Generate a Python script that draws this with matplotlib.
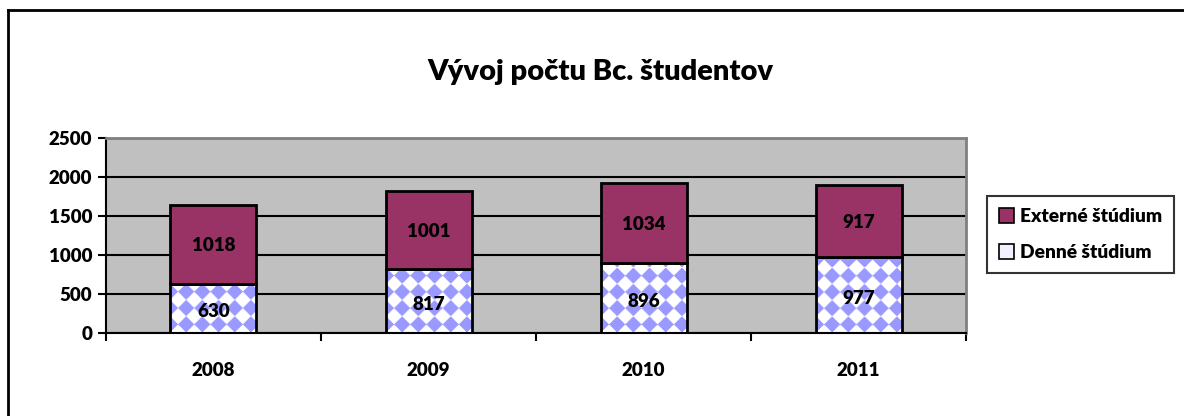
import matplotlib
matplotlib.use('Agg')
import matplotlib.pyplot as plt
from matplotlib.patches import Patch
from matplotlib.lines import Line2D
import numpy as np

plt.rcParams['font.family'] = ['Lato', 'DejaVu Sans']
plt.rcParams['font.weight'] = 'heavy'

years = ['2008', '2009', '2010', '2011']
denne = [630, 817, 896, 977]
externe = [1018, 1001, 1034, 917]

maroon = '#993366'
lilac = '#9999ff'

fig = plt.figure(figsize=(11.84, 4.16), dpi=100)
ax = fig.add_axes([0.0895, 0.1995, 0.7265, 0.4685])
ax.set_facecolor('#c0c0c0')

x = np.arange(len(years))
w = 0.4
ax.set_xlim(-0.5, len(years) - 0.5)
ax.set_ylim(0, 2500)

# diamond texture for Denné štúdium
def diamond(wpx, hpx, s=16):
    xx, yy = np.meshgrid(np.arange(wpx), np.arange(hpx))
    u = np.floor((xx + yy) / s)
    v = np.floor((xx - yy + 1000 * s) / s)
    m = ((u + v) % 2).astype(float)
    img = np.ones((hpx, wpx, 3))
    c = np.array(matplotlib.colors.to_rgb(lilac))
    img[m == 1] = c
    return img

px_per_y = 195 / 2500
bars_d = ax.bar(x, denne, w, color='none', edgecolor='black', linewidth=2, zorder=3)
for b, val in zip(bars_d, denne):
    img = diamond(86, max(int(val * px_per_y), 2))
    im = ax.imshow(img, extent=[b.get_x(), b.get_x() + w, 0, val], aspect='auto',
                   origin='lower', zorder=2, interpolation='bilinear')
    im.set_clip_path(b)
ax.set_xlim(-0.5, len(years) - 0.5)
ax.set_ylim(0, 2500)
ax.bar(x, externe, w, bottom=denne, color=maroon, edgecolor='black', linewidth=2, zorder=3)

for i in range(len(years)):
    ax.text(x[i], denne[i] / 2 - 40, str(denne[i]), ha='center', va='center',
            fontsize=13.5, fontweight='heavy', zorder=5)
    ax.text(x[i], denne[i] + externe[i] / 2 - 20, str(externe[i]), ha='center', va='center',
            fontsize=13.5, fontweight='heavy', zorder=5)

ax.set_yticks([0, 500, 1000, 1500, 2000, 2500])
ax.yaxis.grid(True, color='black', linewidth=1.5, zorder=1)
ax.set_axisbelow(True)
ax.set_xticks(np.arange(-0.5, len(years) + 0.5, 1))
ax.set_xticklabels([])
ax.set_xticks(x, minor=True)
ax.set_xticklabels(years, minor=True)
ax.tick_params(axis='x', which='major', length=6, width=1.5, direction='out')
ax.tick_params(axis='x', which='minor', length=0, pad=21, labelsize=13.5)
ax.tick_params(axis='y', length=6, width=1.5, direction='out', labelsize=13.5, pad=4)
for lab in ax.get_xticklabels(minor=True) + ax.get_yticklabels():
    lab.set_fontweight('heavy')

for s in ['top', 'right']:
    ax.spines[s].set_color('#808080')
    ax.spines[s].set_linewidth(2)
ax.spines['left'].set_linewidth(1.5)
ax.spines['bottom'].set_linewidth(1.5)

fig.text(0.5068, 0.827, 'Vývoj počtu Bc. študentov', ha='center', va='center',
         fontsize=21, fontweight='heavy')

handles = [Patch(facecolor=maroon, edgecolor='black', linewidth=1.2),
           Patch(facecolor='#f0f0ff', edgecolor='black', linewidth=1.2)]
leg = fig.legend(handles, ['Externé štúdium', 'Denné štúdium'],
                 loc='upper left', bbox_to_anchor=(0.834, 0.528),
                 frameon=True, fancybox=False,
                 handlelength=0.8, handleheight=0.8, handletextpad=0.3,
                 labelspacing=1.0, borderpad=0.6, borderaxespad=0.0,
                 prop={'weight': 'heavy', 'size': 13.8})
leg.get_frame().set_edgecolor('black')
leg.get_frame().set_linewidth(1.5)

# outer chart border (top and left visible)
fig.add_artist(Line2D([0.0065, 1.0], [0.976, 0.976], color='black', linewidth=2,
                      transform=fig.transFigure))
fig.add_artist(Line2D([0.0065, 0.0065], [0.0, 0.976], color='black', linewidth=2,
                      transform=fig.transFigure))

fig.savefig('out.png', dpi=100)
